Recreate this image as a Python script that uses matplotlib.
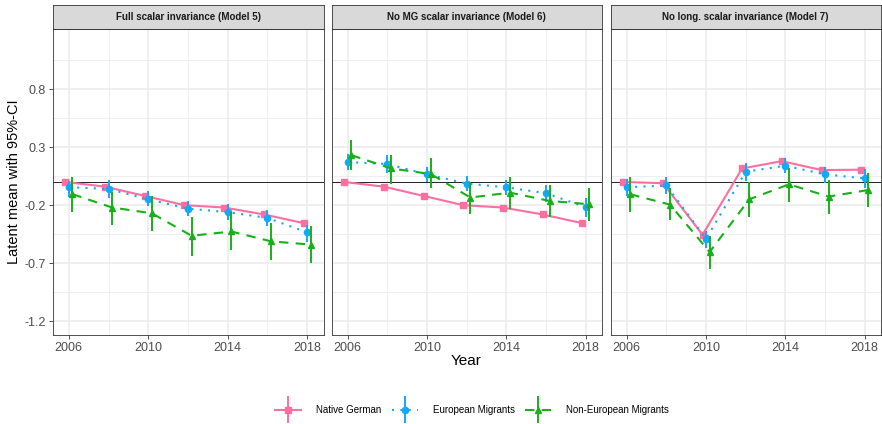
import numpy as np
import matplotlib
matplotlib.use("Agg")
import matplotlib.pyplot as plt
from matplotlib.ticker import FixedLocator
from matplotlib.container import ErrorbarContainer
from matplotlib.legend_handler import HandlerErrorbar

plt.rcParams["font.family"] = ["Liberation Sans", "DejaVu Sans"]
plt.rcParams["axes.unicode_minus"] = False

years = [2006, 2008, 2010, 2012, 2014, 2016, 2018]
panels = ["Full scalar invariance (Model 5)",
          "No MG scalar invariance (Model 6)",
          "No long. scalar invariance (Model 7)"]
groups = ["Native German", "European Migrants", "Non-European Migrants"]

# Latent means per model (rows: panels)
native_mean = [
    [0.00, -0.04, -0.12, -0.20, -0.22, -0.28, -0.355],
    [0.00, -0.04, -0.12, -0.20, -0.22, -0.28, -0.355],
    [0.00, -0.01, -0.455, 0.117, 0.18, 0.103, 0.106],
]
native_lo = [
    [-0.015, -0.055, -0.135, -0.215, -0.235, -0.295, -0.37],
    [-0.015, -0.055, -0.135, -0.215, -0.235, -0.295, -0.37],
    [-0.015, -0.025, -0.47, 0.102, 0.165, 0.088, 0.091],
]
native_hi = [
    [0.015, -0.025, -0.105, -0.185, -0.205, -0.265, -0.34],
    [0.015, -0.025, -0.105, -0.185, -0.205, -0.265, -0.34],
    [0.015, 0.005, -0.44, 0.132, 0.195, 0.118, 0.121],
]

euro_mean = [
    [-0.045, -0.06, -0.15, -0.23, -0.26, -0.31, -0.435],
    [0.172, 0.155, 0.066, -0.014, -0.046, -0.097, -0.217],
    [-0.046, -0.03, -0.49, 0.089, 0.14, 0.066, 0.031],
]
euro_lo = [
    [-0.13, -0.14, -0.21, -0.29, -0.33, -0.38, -0.52],
    [0.10, 0.075, 0.0, -0.08, -0.11, -0.17, -0.30],
    [-0.125, -0.105, -0.57, 0.01, 0.075, -0.01, -0.055],
]
euro_hi = [
    [0.01, 0.02, -0.08, -0.165, -0.19, -0.24, -0.37],
    [0.245, 0.23, 0.13, 0.05, 0.02, -0.03, -0.14],
    [0.03, 0.045, -0.42, 0.16, 0.21, 0.13, 0.11],
]

nonEuro_mean = [
    [-0.105, -0.22, -0.27, -0.464, -0.427, -0.512, -0.54],
    [0.232, 0.117, 0.069, -0.134, -0.092, -0.163, -0.192],
    [-0.106, -0.195, -0.604, -0.149, -0.02, -0.126, -0.069],
]
nonEuro_lo = [
    [-0.26, -0.37, -0.42, -0.635, -0.584, -0.67, -0.70],
    [0.103, -0.02, -0.055, -0.28, -0.233, -0.303, -0.333],
    [-0.26, -0.33, -0.747, -0.303, -0.169, -0.277, -0.217],
]
nonEuro_hi = [
    [0.04, -0.083, -0.12, -0.306, -0.255, -0.355, -0.378],
    [0.36, 0.232, 0.206, 0.003, 0.046, -0.03, -0.054],
    [0.046, -0.054, -0.47, 0.003, 0.123, 0.017, 0.074],
]

y_ticks = [-1.2, -0.7, -0.2, 0.3, 0.8]
x_ticks = [2006, 2010, 2014, 2018]

series = [
    (native_mean, native_lo, native_hi, "#FF6EA0", "-", "s", 4.3, -0.18),
    (euro_mean, euro_lo, euro_hi, "#14A8F8", (0, (1, 3)), "o", 4.5, 0.0),
    (nonEuro_mean, nonEuro_lo, nonEuro_hi, "#18B018", (0, (4.5, 3.5)), "^", 5.0, 0.18),
]

W, H = 882, 424
fig = plt.figure(figsize=(W / 100, H / 100), dpi=100)
fig.patch.set_facecolor("white")

panel_x = [(52.5, 323.5), (331.5, 602), (610.5, 881)]
top, bottom, strip_top = 29, 335, 5

def fx(px):
    return px / W

def fy(py):
    return 1 - py / H

handles = []
for p, (x0, x1) in enumerate(panel_x):
    ax = fig.add_axes([fx(x0), fy(bottom), fx(x1 - x0), fy(top) - fy(bottom)])
    ax.set_xlim(2005.18, 2018.82)
    ax.set_ylim(-1.32, 1.32)
    ax.xaxis.set_major_locator(FixedLocator(x_ticks))
    ax.xaxis.set_minor_locator(FixedLocator([2008, 2012, 2016]))
    ax.yaxis.set_major_locator(FixedLocator(y_ticks))
    ax.yaxis.set_minor_locator(FixedLocator([-0.95, -0.45, 0.05, 0.55, 1.05]))
    ax.grid(which="major", color="#EBEBEB", linewidth=1.1, zorder=0)
    ax.grid(which="minor", color="#EBEBEB", linewidth=0.6, zorder=0)
    ax.set_axisbelow(True)
    for s in ax.spines.values():
        s.set_color("#333333")
        s.set_linewidth(0.6)
    ax.tick_params(which="major", length=3, width=0.6, color="#333333",
                   labelsize=9, labelcolor="#4D4D4D", pad=2)
    ax.tick_params(which="minor", length=0)
    if p > 0:
        ax.tick_params(axis="y", labelleft=False, length=0)
    ax.axhline(0, color="#222222", linewidth=0.7, zorder=1)

    for k, (m, lo, hi, col, ls, mk, ms, off) in enumerate(series):
        xs = np.array(years) + off
        mv = np.array(m[p])
        err = np.vstack([mv - np.array(lo[p]), np.array(hi[p]) - mv])
        cont = ax.errorbar(xs, mv, yerr=err, color=col, linestyle=ls, linewidth=1.5,
                           marker=mk, markersize=ms, elinewidth=1.4, capsize=0,
                           zorder=3 + k, label=groups[k])
        if p == 0:
            handles.append(cont)

    # facet strip
    sax = fig.add_axes([fx(x0), fy(top), fx(x1 - x0), fy(strip_top) - fy(top)])
    sax.set_facecolor("#D9D9D9")
    sax.set_xticks([])
    sax.set_yticks([])
    for s in sax.spines.values():
        s.set_color("#333333")
        s.set_linewidth(0.6)
    sax.text(0.5, 0.5, panels[p], ha="center", va="center", fontsize=7,
             fontweight="bold", color="#1A1A1A", transform=sax.transAxes)

fig.text(fx(466), fy(361), "Year", ha="center", va="center", fontsize=11, color="black")
fig.text(fx(14), fy(182), "Latent mean with 95%-CI", ha="center", va="center",
         rotation=90, fontsize=10.5, color="black")

fig.legend(handles=handles, labels=groups, loc="center", ncol=3,
           bbox_to_anchor=(fx(472), fy(410)), frameon=False, fontsize=7,
           handlelength=2.7, handletextpad=1.5, columnspacing=1.1, markerscale=1.0,
           handler_map={ErrorbarContainer: HandlerErrorbar(yerr_size=1.4)})

fig.savefig("out.png", dpi=100, facecolor="white")
